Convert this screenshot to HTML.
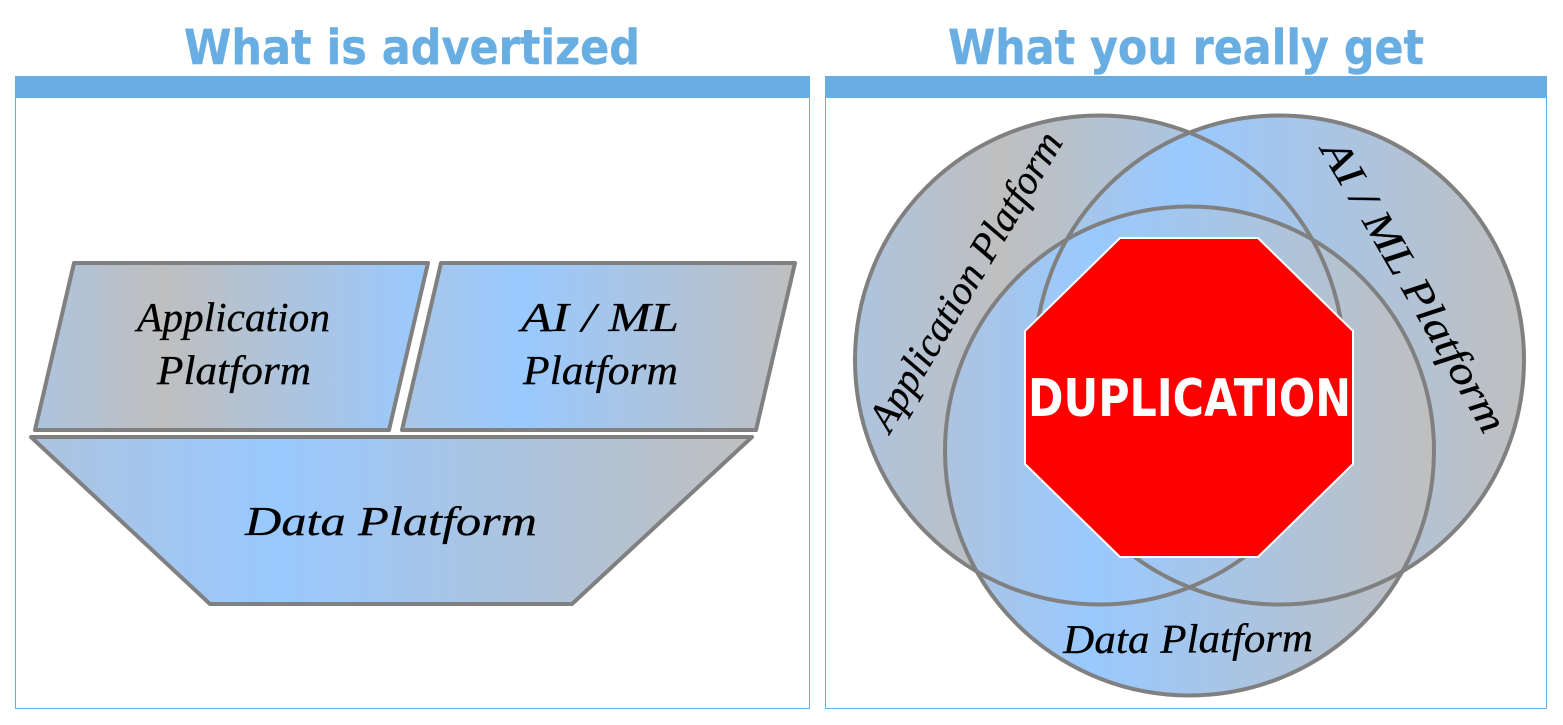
<!DOCTYPE html>
<html>
<head>
<meta charset="utf-8">
<style>
html,body{margin:0;padding:0;background:#fff;width:1563px;height:725px;overflow:hidden}
svg{display:block}
.t{font-family:"DejaVu Sans","Liberation Sans",sans-serif;font-weight:bold;font-size:48px;fill:#69aee3;stroke:#69aee3;stroke-width:.4px}
.h{font-family:"Liberation Serif",serif;font-style:italic;font-size:41px;fill:#000;stroke:#000;stroke-width:.3px}
.d{font-family:"DejaVu Sans","Liberation Sans",sans-serif;font-weight:bold;font-size:52px;fill:#fff}
.s{stroke:#808080;stroke-width:4;stroke-linejoin:round}
</style>
</head>
<body>
<svg width="1563" height="725" viewBox="0 0 1563 725" xmlns="http://www.w3.org/2000/svg">
<defs>
<linearGradient id="g1" gradientUnits="userSpaceOnUse" x1="35" y1="0" x2="428" y2="0">
<stop offset="0" stop-color="#adc4df"/><stop offset=".33" stop-color="#bfbfbf"/><stop offset="1" stop-color="#99c9ff"/>
</linearGradient>
<linearGradient id="g2" gradientUnits="userSpaceOnUse" x1="402" y1="0" x2="795" y2="0">
<stop offset="0" stop-color="#a9c6e6"/><stop offset=".3" stop-color="#99c9ff"/><stop offset="1" stop-color="#bfbfbf"/>
</linearGradient>
<linearGradient id="g3" gradientUnits="userSpaceOnUse" x1="31" y1="0" x2="752" y2="0">
<stop offset="0" stop-color="#adc4df"/><stop offset=".34" stop-color="#99c9ff"/><stop offset="1" stop-color="#bfbfbf"/>
</linearGradient>
<linearGradient id="c1" gradientUnits="userSpaceOnUse" x1="855" y1="0" x2="1344" y2="0">
<stop offset="0" stop-color="#adc4df"/><stop offset=".3" stop-color="#bfbfbf"/><stop offset="1" stop-color="#99c9ff"/>
</linearGradient>
<linearGradient id="c2" gradientUnits="userSpaceOnUse" x1="1035" y1="0" x2="1524" y2="0">
<stop offset="0" stop-color="#adc4df"/><stop offset=".3" stop-color="#99c9ff"/><stop offset="1" stop-color="#bfbfbf"/>
</linearGradient>
<linearGradient id="c3" gradientUnits="userSpaceOnUse" x1="945" y1="0" x2="1434" y2="0">
<stop offset="0" stop-color="#adc4df"/><stop offset=".3" stop-color="#99c9ff"/><stop offset="1" stop-color="#bfbfbf"/>
</linearGradient>
<path id="p1" d="M 890 434 C 925 375, 985 275, 1066 138"/>
<path id="p2" d="M 1320 150 C 1345 193, 1400 285, 1484 435"/>
<path id="p3" d="M 1063 653 Q 1190 653 1315 651"/>
</defs>

<text class="t" x="184" y="64" textLength="456" lengthAdjust="spacingAndGlyphs">What is advertized</text>
<text class="t" x="948" y="64" textLength="476" lengthAdjust="spacingAndGlyphs">What you really get</text>

<rect x="15.5" y="76.5" width="794" height="632" fill="#fff" stroke="#69aee3" stroke-width="1"/>
<rect x="15" y="76" width="795" height="22" fill="#69aee3"/>
<rect x="825.5" y="76.5" width="721" height="632" fill="#fff" stroke="#69aee3" stroke-width="1"/>
<rect x="825" y="76" width="722" height="22" fill="#69aee3"/>

<polygon class="s" points="74,263 428,263 389,430 35,430" fill="url(#g1)"/>
<polygon class="s" points="441,263 795,263 756,430 402,430" fill="url(#g2)"/>
<polygon class="s" points="31,437 752,437 572,604 210,604" fill="url(#g3)"/>

<text class="h" x="137" y="331" textLength="193" lengthAdjust="spacingAndGlyphs">Application</text>
<text class="h" x="157" y="384" textLength="154" lengthAdjust="spacingAndGlyphs">Platform</text>
<text class="h" x="521" y="331" textLength="158" lengthAdjust="spacingAndGlyphs">AI / ML</text>
<text class="h" x="523" y="384" textLength="155" lengthAdjust="spacingAndGlyphs">Platform</text>
<text class="h" x="245" y="535" textLength="292" lengthAdjust="spacingAndGlyphs">Data Platform</text>

<circle cx="1099.5" cy="360" r="244.5" fill="url(#c1)"/>
<circle cx="1279.5" cy="360" r="244.5" fill="url(#c2)"/>
<circle cx="1189.5" cy="451" r="244.5" fill="url(#c3)"/>
<circle cx="1099.5" cy="360" r="244.5" fill="none" class="s"/>
<circle cx="1279.5" cy="360" r="244.5" fill="none" class="s"/>
<circle cx="1189.5" cy="451" r="244.5" fill="none" class="s"/>

<text class="h"><textPath href="#p1" textLength="340" lengthAdjust="spacingAndGlyphs">Application Platform</textPath></text>
<text class="h"><textPath href="#p2" textLength="330" lengthAdjust="spacingAndGlyphs">AI / ML Platform</textPath></text>
<text class="h"><textPath href="#p3" textLength="250" lengthAdjust="spacingAndGlyphs">Data Platform</textPath></text>

<polygon points="1120,238 1258,238 1353,331 1353,464 1258,557 1120,557 1025,464 1025,331" fill="#ff0000" stroke="#fff" stroke-width="2"/>
<text class="d" x="1028" y="416" textLength="323" lengthAdjust="spacingAndGlyphs">DUPLICATION</text>
</svg>
</body>
</html>
